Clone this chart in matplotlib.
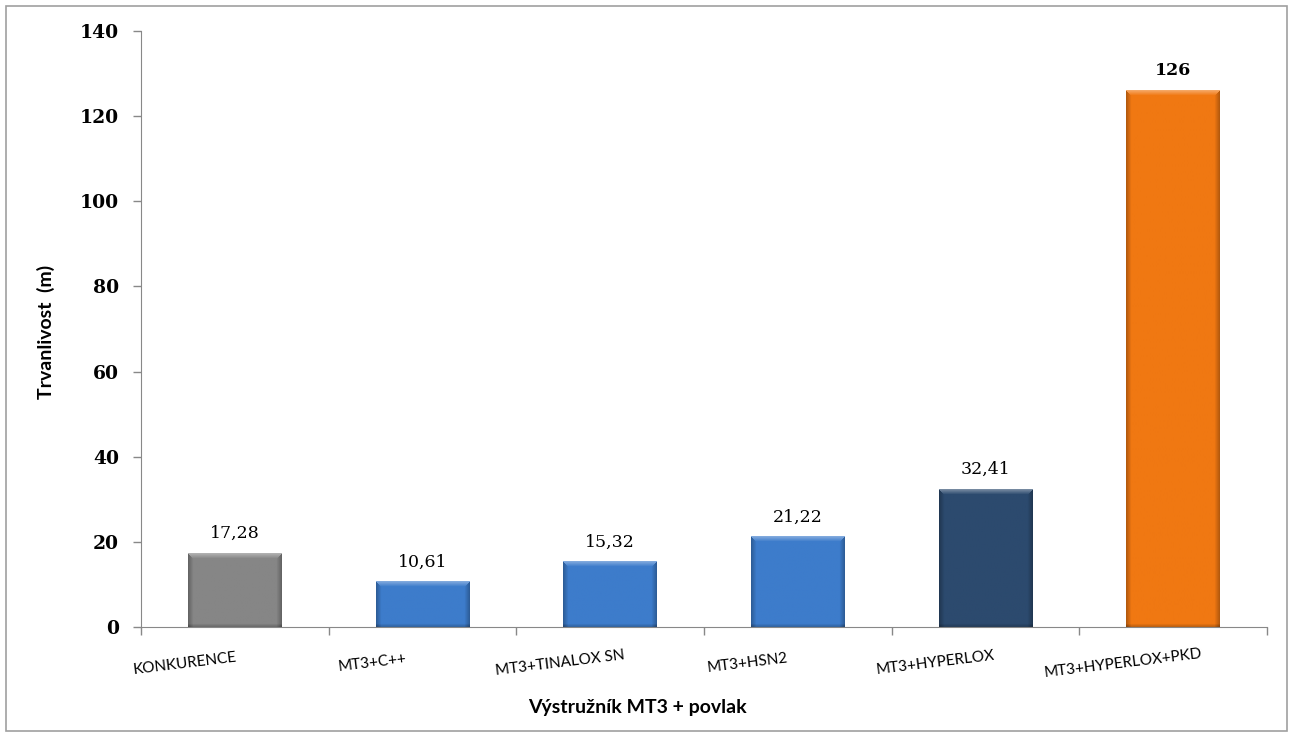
import matplotlib.pyplot as plt
import matplotlib.transforms as mtransforms
from matplotlib.colors import to_rgb
from matplotlib.patches import Rectangle
import numpy as np

categories = ["KONKURENCE", "MT3+C++", "MT3+TINALOX SN", "MT3+HSN2",
              "MT3+HYPERLOX", "MT3+HYPERLOX+PKD"]
values = [17.28, 10.61, 15.32, 21.22, 32.41, 126]
value_labels = ["17,28", "10,61", "15,32", "21,22", "32,41", "126"]
bar_colors = ["#868686", "#3d7ccb", "#3d7ccb", "#3d7ccb", "#2c4a6e", "#f07812"]


def bevel_image(color, w_px, h_px, bev=5):
    # flat fill, lighter top edge, darker sides/bottom
    c = np.array(to_rgb(color))
    img = np.tile(c, (h_px, w_px, 1))
    yy, xx = np.mgrid[0:h_px, 0:w_px]
    d_top = yy
    d_side = np.minimum(xx, w_px - 1 - xx)
    d_bot = h_px - 1 - yy
    top = np.clip(1 - d_top / bev, 0, 1) * (d_side >= d_top)
    side = np.clip(1 - d_side / bev, 0, 1) * (d_side < d_top)
    bot = np.clip(1 - d_bot / 3, 0, 1)
    img = img + (1 - img) * (0.35 * top)[..., None]
    img = img * (1 - 0.25 * side - 0.2 * bot)[..., None]
    return np.clip(img, 0, 1)


fig = plt.figure(figsize=(12.94, 7.34), dpi=100)
ax = fig.add_axes([141 / 1294, 1 - 627 / 734, (1267 - 141) / 1294, (627 - 31) / 734])

# outer frame
fig.patches.append(Rectangle((6 / 1294, 3 / 734), 1281 / 1294, 725 / 734,
                             transform=fig.transFigure, fill=False,
                             edgecolor="#a0a0a0", linewidth=1.2))

x = np.arange(len(categories))
bars = ax.bar(x, values, width=0.5, color=bar_colors, linewidth=0, zorder=2)

ax.set_xlim(-0.5, len(categories) - 0.5)
ax.set_ylim(0, 140)

px_per_x = 1126 / len(categories)
px_per_y = 596 / 140
for b, col in zip(bars, bar_colors):
    x0, w, h = b.get_x(), b.get_width(), b.get_height()
    img = bevel_image(col, int(w * px_per_x), max(int(h * px_per_y), 8))
    ax.imshow(img, extent=[x0, x0 + w, 0, h], aspect="auto", zorder=2.5,
              interpolation="bilinear")

ax.set_xlim(-0.5, len(categories) - 0.5)
ax.set_ylim(0, 140)

for xi, v, lab in zip(x, values, value_labels):
    ax.annotate(lab, (xi, v), xytext=(0, 8), textcoords="offset points",
                ha="center", va="bottom", fontsize=12.5,
                family="DejaVu Serif",
                fontweight="bold" if v > 100 else "normal")

ax.set_yticks(np.arange(0, 141, 20))
ax.set_yticklabels([str(t) for t in range(0, 141, 20)],
                   family="DejaVu Serif", fontweight="bold", fontsize=13.5)
ax.set_xticks(np.arange(-0.5, len(categories), 1))
ax.set_xticklabels([])
ax.tick_params(axis="both", direction="out", color="#888888", length=6,
               width=1)
ax.tick_params(axis="y", pad=10)

offset = mtransforms.ScaledTranslation(-0.5, 0, fig.dpi_scale_trans)
for xi, lab in zip(x, categories):
    ax.text(xi, -8.5, lab, ha="center", va="center", rotation=7,
            fontsize=11, family="Lato",
            transform=ax.transData + offset)

for s in ["top", "right"]:
    ax.spines[s].set_visible(False)
for s in ["left", "bottom"]:
    ax.spines[s].set_color("#888888")

fig.text(637 / 1294, 1 - 707 / 734, "Výstružník MT3 + povlak", ha="center",
         va="center", fontsize=14, fontweight="bold", family="Lato")
fig.text(46 / 1294, 1 - 332 / 734, "Trvanlivost  (m)", ha="center",
         va="center", rotation=90, fontsize=14, fontweight="bold",
         family="Lato")

fig.savefig("out.png", dpi=100)
